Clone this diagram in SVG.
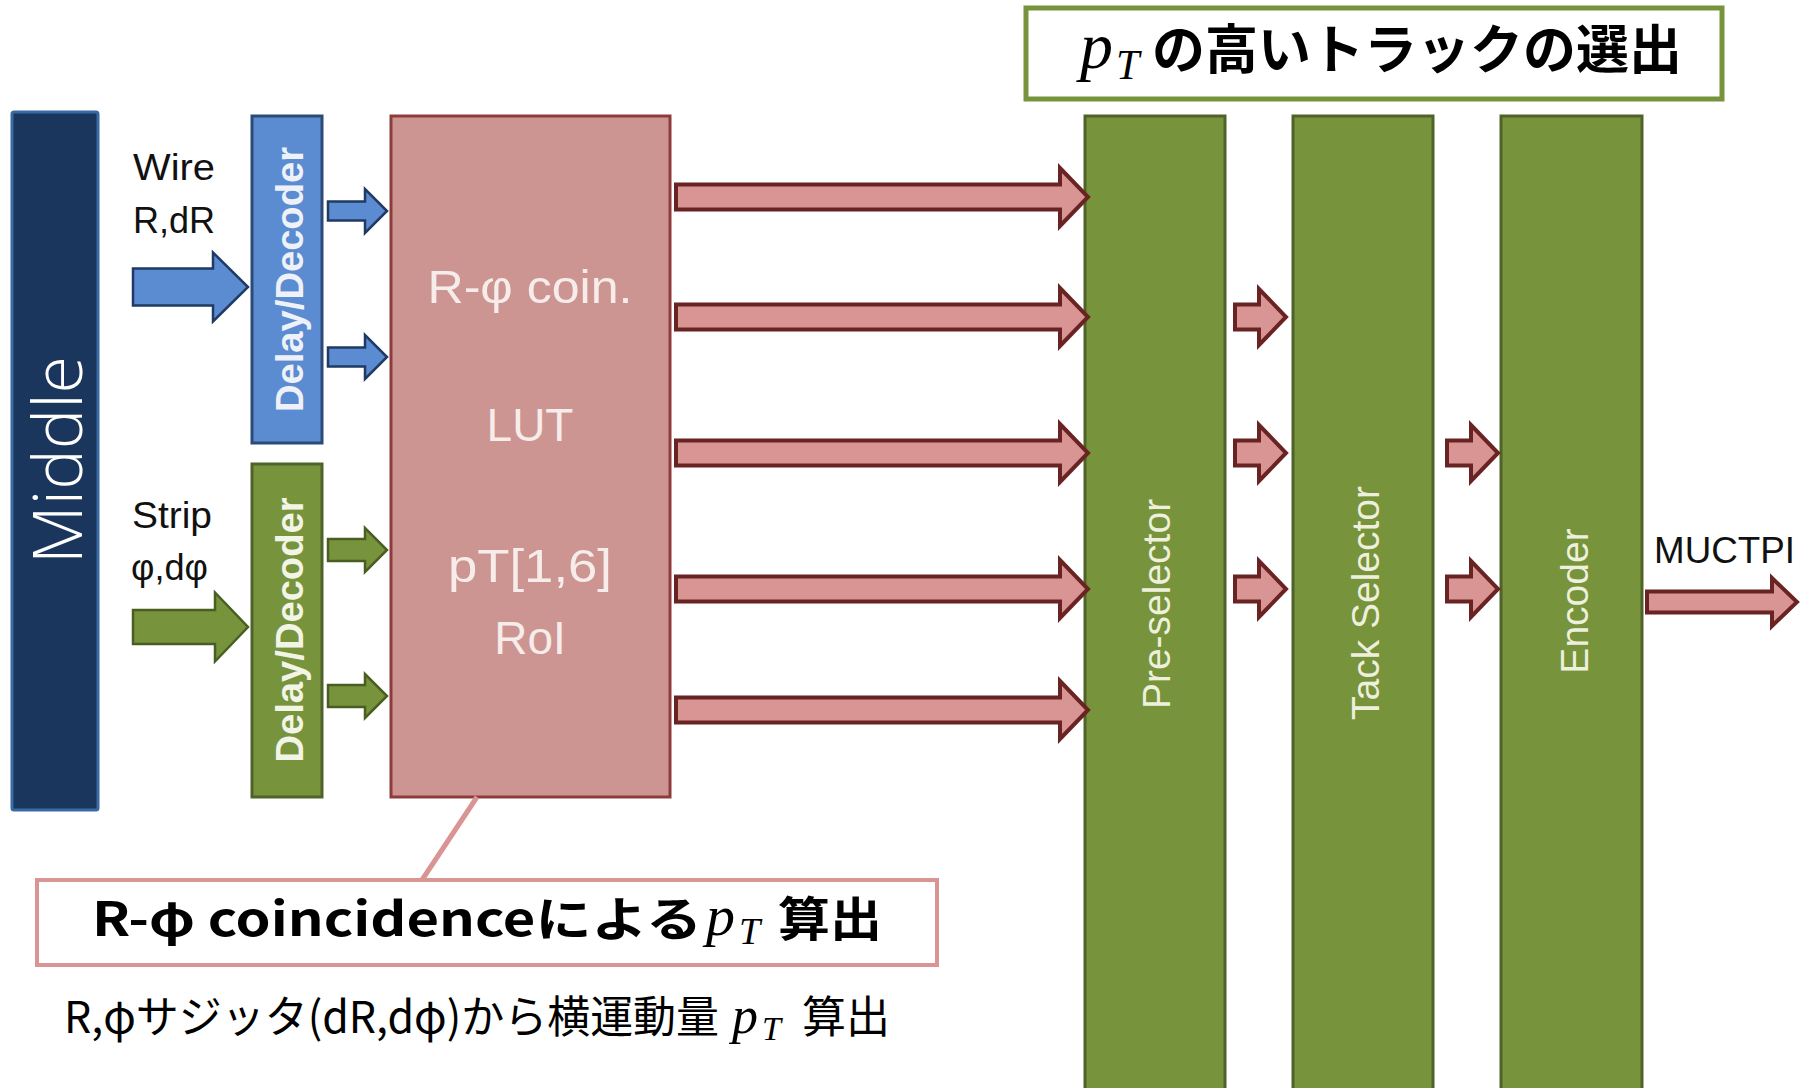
<svg xmlns="http://www.w3.org/2000/svg" width="1805" height="1088" viewBox="0 0 1805 1088">
<style>
.lbl{font-family:"Liberation Sans",Arial,sans-serif;fill:#111}
.vt{font-family:"Liberation Sans",Arial,sans-serif;text-anchor:middle}
.pa{fill:#d99594;stroke:#692323;stroke-width:4;stroke-linejoin:miter}
.ba{fill:#5b8bd1;stroke:#1f3a63;stroke-width:2.5}
.ga{fill:#77933c;stroke:#4a5e23;stroke-width:2.5}
.col{fill:#77933c;stroke:#4f6228;stroke-width:3}
.jp{font-family:"Noto Sans CJK JP","Liberation Sans",sans-serif}
.math{font-family:"Liberation Serif","Times New Roman",serif;font-style:italic}
</style>
<rect width="1805" height="1088" fill="#ffffff"/>

<g id="middle">
<rect x="12" y="112" width="86" height="698" rx="2" fill="#1b365d" stroke="#3a6aa3" stroke-width="3"/>
<text transform="translate(82,460) rotate(-90)" text-anchor="middle" font-family="'Open Sans','Liberation Sans',sans-serif" font-weight="300" font-size="68" fill="#ffffff">Middle</text>
</g>

<g id="wire-label">
<text class="lbl" x="133" y="180" font-size="36" textLength="82" lengthAdjust="spacingAndGlyphs">Wire</text>
<text class="lbl" x="133" y="233" font-size="36">R,dR</text>
</g>
<g id="strip-label">
<text class="lbl" x="132" y="528" font-size="36" textLength="80" lengthAdjust="spacingAndGlyphs">Strip</text>
<text class="lbl" x="131" y="580" font-size="36" textLength="77" lengthAdjust="spacingAndGlyphs">φ,dφ</text>
</g>

<g id="decoder-wire">
<rect x="252" y="116" width="70" height="327" fill="#5b8bd1" stroke="#2b4a78" stroke-width="3"/>
<text class="vt" transform="translate(303,279.5) rotate(-90)" font-size="38" font-weight="bold" fill="#eef2f8" textLength="265" lengthAdjust="spacingAndGlyphs">Delay/Decoder</text>
</g>
<g id="decoder-strip">
<rect x="252" y="464" width="70" height="333" fill="#77933c" stroke="#4f6228" stroke-width="3"/>
<text class="vt" transform="translate(303,630) rotate(-90)" font-size="38" font-weight="bold" fill="#f2f4e6" textLength="265" lengthAdjust="spacingAndGlyphs">Delay/Decoder</text>
</g>

<g id="lut">
<rect x="391" y="116" width="279" height="681" fill="#cd9592" stroke="#8e3b3b" stroke-width="3"/>
<g class="vt" font-size="46" fill="#f6ecea">
<text x="530" y="303" textLength="205" lengthAdjust="spacingAndGlyphs">R-φ coin.</text>
<text x="530" y="441">LUT</text>
<text x="530" y="582" textLength="164" lengthAdjust="spacingAndGlyphs">pT[1,6]</text>
<text x="530" y="654">RoI</text>
</g>
</g>

<g id="pre-selector">
<rect class="col" x="1085" y="116" width="140" height="985"/>
<text class="vt" transform="translate(1170,604) rotate(-90)" font-size="39" fill="#eef0dc">Pre-selector</text>
</g>
<g id="track-selector">
<rect class="col" x="1293" y="116" width="140" height="985"/>
<text class="vt" transform="translate(1379,603) rotate(-90)" font-size="39" fill="#eef0dc">Tack Selector</text>
</g>
<g id="encoder">
<rect class="col" x="1501" y="116" width="141" height="985"/>
<text class="vt" transform="translate(1588,601) rotate(-90)" font-size="39" fill="#eef0dc">Encoder</text>
</g>

<g id="muctpi-label">
<text class="lbl" x="1654" y="563" font-size="36" textLength="141" lengthAdjust="spacingAndGlyphs">MUCTPI</text>
</g>

<g id="connectors">
<polygon class="ba" points="133,268.5 213,268.5 213,252.5 248,287 213,321.5 213,305.5 133,305.5"/>
<polygon class="ba" points="328,201.5 365,201.5 365,189 387,211 365,233 365,220.5 328,220.5"/>
<polygon class="ba" points="328,347.5 365,347.5 365,335 387,357 365,379 365,366.5 328,366.5"/>
<polygon class="ga" points="133,610 215,610 215,592.5 248,627 215,661.5 215,644 133,644"/>
<polygon class="ga" points="328,539 365,539 365,528 387,550 365,572 365,561 328,561"/>
<polygon class="ga" points="328,685 365,685 365,674 387,696 365,718 365,707 328,707"/>

<polygon class="pa" points="676,184.5 1060,184.5 1060,168 1088,197 1060,226 1060,209.5 676,209.5"/>
<polygon class="pa" points="676,304.5 1060,304.5 1060,288 1088,317 1060,346 1060,329.5 676,329.5"/>
<polygon class="pa" points="676,440.5 1060,440.5 1060,424 1088,453 1060,482 1060,465.5 676,465.5"/>
<polygon class="pa" points="676,576.5 1060,576.5 1060,560 1088,589 1060,618 1060,601.5 676,601.5"/>
<polygon class="pa" points="676,697.5 1060,697.5 1060,681 1088,710 1060,739 1060,722.5 676,722.5"/>

<polygon class="pa" points="1235,304.5 1259,304.5 1259,289 1286,317 1259,345 1259,329.5 1235,329.5"/>
<polygon class="pa" points="1235,440.5 1259,440.5 1259,425 1286,453 1259,481 1259,465.5 1235,465.5"/>
<polygon class="pa" points="1235,576.5 1259,576.5 1259,561 1286,589 1259,617 1259,601.5 1235,601.5"/>
<polygon class="pa" points="1447,440.5 1471,440.5 1471,425 1498,453 1471,481 1471,465.5 1447,465.5"/>
<polygon class="pa" points="1447,576.5 1471,576.5 1471,561 1498,589 1471,617 1471,601.5 1447,601.5"/>

<polygon class="pa" points="1647,591.5 1772,591.5 1772,578 1797,602 1772,626 1772,612.5 1647,612.5"/>

<line x1="477" y1="797" x2="422" y2="880" stroke="#d99594" stroke-width="5"/>
</g>

<g id="title-box">
<rect x="1026" y="8" width="696" height="91" fill="#ffffff" stroke="#77933c" stroke-width="5"/>
<text class="math" x="1080" y="68" font-size="66">p</text>
<text class="math" x="1116" y="79" font-size="42">T</text>
<text class="jp" x="1152" y="69" font-size="53" font-weight="bold" fill="#000" textLength="530" lengthAdjust="spacingAndGlyphs">の高いトラックの選出</text>
</g>

<g id="callout-box">
<rect x="37" y="880" width="900" height="85" fill="#ffffff" stroke="#d99594" stroke-width="4"/>
<text class="jp" x="92" y="936" font-size="47" font-weight="bold" fill="#000" textLength="610" lengthAdjust="spacingAndGlyphs">R-φ coincidenceによる</text>
<text class="math" x="706" y="935" font-size="58">p</text>
<text class="math" x="739" y="944" font-size="38">T</text>
<text class="jp" x="778" y="936" font-size="47" font-weight="bold" fill="#000" textLength="104" lengthAdjust="spacingAndGlyphs">算出</text>
</g>

<g id="note">
<text class="jp" x="64" y="1033" font-size="44" fill="#000" textLength="655" lengthAdjust="spacingAndGlyphs">R,φサジッタ(dR,dφ)から横運動量</text>
<text class="math" x="732" y="1033" font-size="52">p</text>
<text class="math" x="762" y="1040" font-size="34">T</text>
<text class="jp" x="802" y="1033" font-size="44" fill="#000" textLength="88" lengthAdjust="spacingAndGlyphs">算出</text>
</g>
</svg>
